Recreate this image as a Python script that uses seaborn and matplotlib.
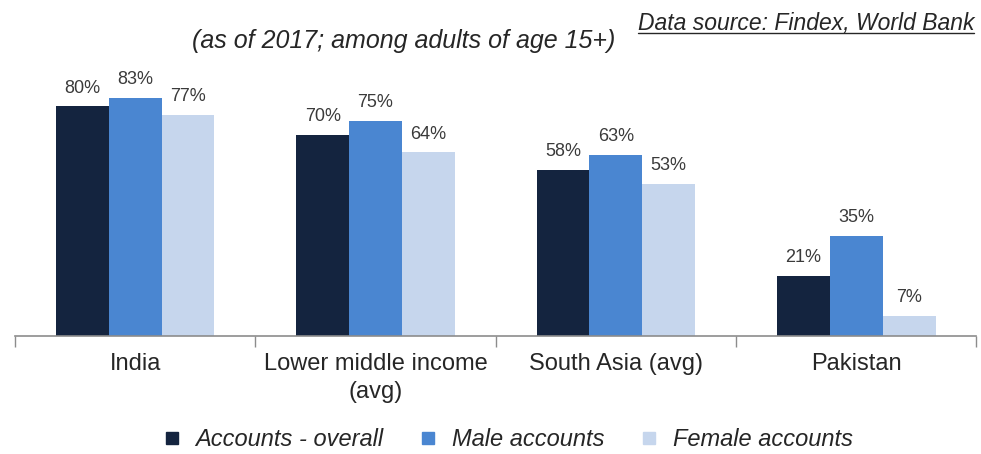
import matplotlib
matplotlib.use("Agg")
import matplotlib.pyplot as plt
from matplotlib.lines import Line2D
import seaborn as sns
import pandas as pd

categories = ["India", "Lower middle income\n(avg)", "South Asia (avg)", "Pakistan"]
series = ["Accounts - overall", "Male accounts", "Female accounts"]
overall = [80, 70, 58, 21]
male = [83, 75, 63, 35]
female = [77, 64, 53, 7]
colors = ["#14243f", "#4a86d1", "#c6d6ed"]

rows = []
for name, vals in zip(series, [overall, male, female]):
    for cat, v in zip(categories, vals):
        rows.append({"category": cat, "series": name, "value": v})
df = pd.DataFrame(rows)

sns.set_style("white")
plt.rcParams["font.family"] = ["Liberation Sans", "DejaVu Sans"]

fig = plt.figure(figsize=(9.81, 4.54), dpi=100)
ax = fig.add_axes([0.0153, 0.26, 0.98, 0.632])

sns.barplot(data=df, x="category", y="value", hue="series", hue_order=series,
            palette=colors, width=0.66, gap=0, saturation=1, ax=ax, legend=False,
            order=categories, linewidth=0)

ax.set_ylim(0, 100)
ax.set_xlim(-0.5, len(categories) - 0.5)
ax.set_xlabel("")
ax.set_ylabel("")
ax.set_yticks([])
for side in ["top", "right", "left"]:
    ax.spines[side].set_visible(False)
ax.spines["bottom"].set_color("#8c8c8c")
ax.spines["bottom"].set_linewidth(1.2)

# category boundaries as tick marks, labels centered in each slot
ax.set_xticks([i - 0.5 for i in range(len(categories) + 1)], minor=True)
ax.tick_params(axis="x", which="minor", bottom=True, length=8, width=1,
               color="#8c8c8c", direction="out")
ax.tick_params(axis="x", which="major", bottom=False, length=0, pad=12,
               labelsize=17, labelcolor="#262626")
for lbl in ax.get_xticklabels():
    lbl.set_linespacing(1.35)

for cont in ax.containers:
    ax.bar_label(cont, labels=[f"{int(v)}%" for v in cont.datavalues],
                 padding=7, fontsize=13, color="#3a3a3a")

fig.text(0.412, 0.91, "(as of 2017; among adults of age 15+)", ha="center", va="center",
         fontsize=18, style="italic", color="#262626")
src = fig.text(0.993, 0.948, "Data source: Findex, World Bank", ha="right", va="center",
               fontsize=16.5, style="italic", color="#262626")
fig.canvas.draw()
bb = src.get_window_extent()
inv = fig.transFigure.inverted()
(x0, y0), (x1, y1) = inv.transform([(bb.x0, bb.y0), (bb.x1, bb.y0)])
fig.add_artist(Line2D([x0, x1], [y0 + 0.004, y0 + 0.004], transform=fig.transFigure,
                      color="#262626", linewidth=1))

handles = [Line2D([], [], marker="s", linestyle="", markersize=8, color=c) for c in colors]
fig.legend(handles, series, loc="center", bbox_to_anchor=(0.51, 0.032), ncol=3,
           frameon=False, prop={"size": 17, "style": "italic"}, handletextpad=0.0,
           columnspacing=0.9, labelcolor="#262626")

fig.savefig("out.png", dpi=100)
